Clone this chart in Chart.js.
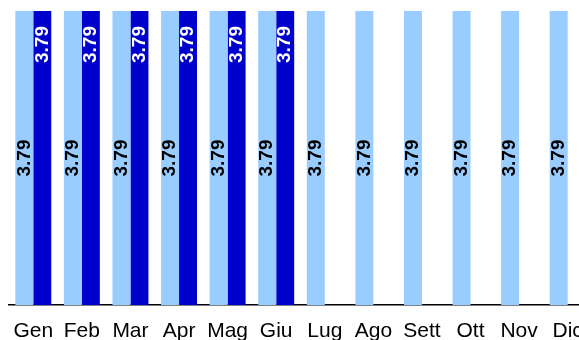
<!DOCTYPE html>
<html>
<head>
<meta charset="utf-8">
<script src="https://cdn.jsdelivr.net/npm/chart.js@4/dist/chart.umd.min.js"></script>
<style>
  html, body { margin: 0; padding: 0; background: #fff; overflow: hidden; }
  #wrap { width: 592px; height: 340px; }
</style>
</head>
<body>
<div id="wrap"><canvas id="c" width="592" height="340"></canvas></div>
<script>
// Monthly categories and the two series
const months = ['Gen', 'Feb', 'Mar', 'Apr', 'Mag', 'Giu', 'Lug', 'Ago', 'Sett', 'Ott', 'Nov', 'Dic'];
const seriesA = [3.79, 3.79, 3.79, 3.79, 3.79, 3.79, 3.79, 3.79, 3.79, 3.79, 3.79, 3.79];
const seriesB = [3.79, 3.79, 3.79, 3.79, 3.79, 3.79, null, null, null, null, null, null];

const FONT = '"Liberation Sans", Arial, sans-serif';

// Rotated value labels inside each bar, and month labels under the axis
const labelsPlugin = {
  id: 'labelsPlugin',
  afterDatasetsDraw(chart) {
    const ctx = chart.ctx;
    ctx.save();
    ctx.font = 'bold 19px ' + FONT;
    chart.data.datasets.forEach((ds, di) => {
      const meta = chart.getDatasetMeta(di);
      meta.data.forEach((bar, i) => {
        const v = ds.data[i];
        if (v === null || v === undefined) return;
        const txt = v.toFixed(2);
        ctx.save();
        ctx.translate(bar.x, 0);
        ctx.rotate(-Math.PI / 2);
        ctx.textBaseline = 'middle';
        if (di === 0) {
          ctx.fillStyle = '#000';
          ctx.textAlign = 'center';
          ctx.fillText(txt, -(bar.y + bar.base) / 2, 0);
        } else {
          ctx.fillStyle = '#fff';
          ctx.textAlign = 'right';
          ctx.fillText(txt, -(bar.y + 15), 0);
        }
        ctx.restore();
      });
    });
    ctx.restore();
  },
  afterDraw(chart) {
    const ctx = chart.ctx;
    const xs = chart.scales.x;
    ctx.save();
    ctx.font = '21px ' + FONT;
    ctx.fillStyle = '#000';
    ctx.textAlign = 'center';
    ctx.textBaseline = 'alphabetic';
    chart.data.labels.forEach((lab, i) => {
      ctx.fillText(lab, xs.getPixelForValue(i), 337);
    });
    ctx.restore();
  }
};

new Chart(document.getElementById('c'), {
  type: 'bar',
  data: {
    labels: months,
    datasets: [
      { data: seriesA, backgroundColor: '#99ccff', borderWidth: 0 },
      { data: seriesB, backgroundColor: '#0000cc', borderWidth: 0 }
    ]
  },
  options: {
    responsive: false,
    animation: false,
    layout: { padding: { left: 9, right: 0, top: 11, bottom: 0 } },
    datasets: { bar: { categoryPercentage: 0.74, barPercentage: 1.0 } },
    plugins: { legend: { display: false }, tooltip: { enabled: false } },
    scales: {
      x: {
        grid: { display: false, drawTicks: false },
        border: { display: true, color: '#000', width: 1.5 },
        ticks: { display: false },
        afterFit(scale) { scale.height = 35; }
      },
      y: {
        display: false,
        min: 0,
        max: 3.79
      }
    }
  },
  plugins: [labelsPlugin]
});
</script>
</body>
</html>
